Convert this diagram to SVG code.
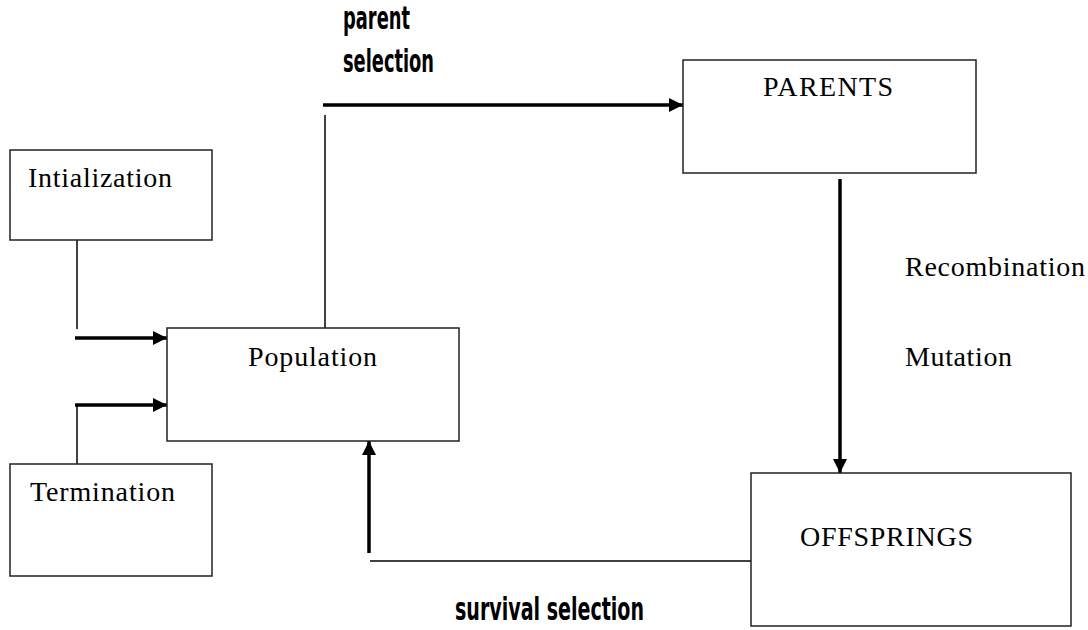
<svg xmlns="http://www.w3.org/2000/svg" width="1088" height="630" viewBox="0 0 1088 630">
<style>
.box{fill:#fff;stroke:#222;stroke-width:1.5}
.t{font-family:"Liberation Serif","Times New Roman",serif;font-size:28px;fill:#000}
.b{font-family:"Liberation Sans Narrow","DejaVu Sans Condensed","Liberation Sans",sans-serif;font-weight:bold;font-size:32px;fill:#000}
.thin{stroke:#000;stroke-width:1.5;fill:none}
.thick{stroke:#000;stroke-width:3.5;fill:none}
</style>
<defs>
<marker id="ah" viewBox="0 0 10 10" refX="10" refY="5" markerWidth="4.5" markerHeight="4" orient="auto" markerUnits="strokeWidth">
<path d="M0,0 L10,5 L0,10 z" fill="#000"/>
</marker>
</defs>
<rect width="1088" height="630" fill="#fff"/>
<g id="connectors">
<polyline class="thin" points="77,240 77,329"/>
<line class="thick" x1="75" y1="338" x2="167" y2="338" marker-end="url(#ah)"/>
<polyline class="thin" points="77,464 77,405"/>
<line class="thick" x1="75" y1="405" x2="167" y2="405" marker-end="url(#ah)"/>
<line class="thin" x1="325" y1="115" x2="325" y2="339"/>
<line class="thick" x1="323" y1="105" x2="683" y2="105" marker-end="url(#ah)"/>
<line class="thick" x1="840" y1="179" x2="840" y2="473" marker-end="url(#ah)"/>
<line class="thin" x1="370" y1="561" x2="751" y2="561"/>
<line class="thick" x1="369" y1="553" x2="369" y2="441" marker-end="url(#ah)"/>
</g>
<g id="initialization"><rect class="box" x="10" y="150" width="202" height="90"/><text class="t" x="28" y="187" textLength="144" lengthAdjust="spacing">Intialization</text></g>
<g id="termination"><rect class="box" x="10" y="464" width="202" height="112"/><text class="t" x="30" y="501" textLength="145" lengthAdjust="spacing">Termination</text></g>
<g id="population"><rect class="box" x="167" y="328" width="292" height="113"/><text class="t" x="248" y="366" textLength="129" lengthAdjust="spacing">Population</text></g>
<g id="parents"><rect class="box" x="683" y="60" width="293" height="113"/><text class="t" x="763" y="96" textLength="130" lengthAdjust="spacing">PARENTS</text></g>
<g id="offsprings"><rect class="box" x="751" y="473" width="320" height="153"/><text class="t" x="800" y="546" textLength="173" lengthAdjust="spacing">OFFSPRINGS</text></g>
<text class="t" x="905" y="276" textLength="180" lengthAdjust="spacing">Recombination</text>
<text class="t" x="905" y="366" textLength="107" lengthAdjust="spacing">Mutation</text>
<text class="b" x="343" y="29" textLength="67" lengthAdjust="spacingAndGlyphs">parent</text>
<text class="b" x="343" y="72" textLength="91" lengthAdjust="spacingAndGlyphs">selection</text>
<text class="b" x="455" y="620" textLength="189" lengthAdjust="spacingAndGlyphs">survival selection</text>
</svg>
